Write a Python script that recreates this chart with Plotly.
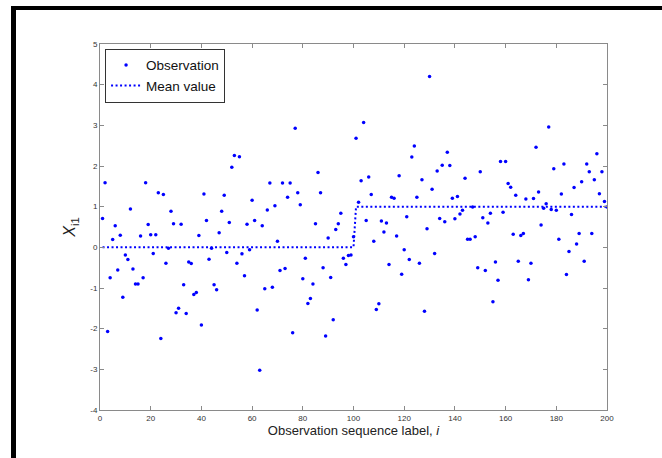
import plotly.graph_objects as go

obs_index = list(range(1, 201))
obs_values = [
    0.71, 1.59, -2.07, -0.75, 0.19, 0.53, -0.56, 0.30, -1.23, -0.19,
    -0.30, 0.94, -0.53, -0.90, -0.90, 0.28, -0.75, 1.59, 0.56, 0.31,
    -0.15, 0.31, 1.34, -2.24, 1.30, -0.39, -0.02, 0.89, 0.58, -1.61,
    -1.50, 0.57, -0.92, -1.63, -0.36, -0.40, -1.16, -1.11, 0.29, -1.91,
    1.31, 0.66, -0.29, -0.02, -0.92, -1.04, 0.36, 0.89, 1.28, -0.13,
    0.61, 1.97, 2.26, -0.39, 2.23, -0.16, -0.70, 0.57, -0.06, 1.16,
    0.66, -1.54, -3.02, 0.53, -1.02, 0.92, 1.58, -0.98, 1.02, 0.15,
    -0.57, 1.58, -0.52, 1.23, 1.58, -2.10, 2.93, 1.34, 1.05, -0.77,
    -0.27, -1.38, -1.26, -0.90, 0.58, 1.84, 1.34, -0.50, -2.18, 0.23,
    -0.74, -1.78, 0.44, 0.58, 0.84, -0.27, -0.42, -0.20, -0.19, 0.26,
    2.68, 1.11, 1.64, 3.07, 0.66, 1.73, 1.30, 0.15, -1.53, -1.39,
    0.65, 0.38, 0.60, -0.42, 1.23, 1.21, 0.28, 1.76, -0.66, -0.06,
    0.75, -0.30, 2.22, 2.49, 1.23, -0.39, 1.66, -1.57, 0.46, 4.20,
    1.43, -0.15, 1.88, 0.71, 2.02, 0.63, 2.34, 2.01, 1.21, 0.70,
    1.25, 0.82, 0.91, 1.70, 0.20, 0.20, 0.99, 0.26, -0.50, 1.86,
    0.73, -0.57, 0.60, 0.84, -1.34, -0.36, -0.81, 2.11, 0.86, 2.11,
    1.57, 1.48, 0.32, 1.28, -0.34, 0.29, 0.34, 1.19, -0.80, -0.39,
    1.20, 2.46, 1.36, 0.55, 0.96, 1.07, 2.96, 0.93, 1.93, 0.91,
    0.20, 1.31, 2.05, -0.67, -0.10, 0.81, 1.47, 0.08, 0.34, 1.61,
    -0.34, 2.05, 1.86, 0.34, 1.66, 2.30, 1.32, 1.86, 1.13, 0.99,
]
mean_values = [0.0] * 100 + [1.0] * 100

x_ticks = list(range(0, 201, 20))
y_ticks = list(range(-4, 6))

W, H = 662, 458
L, R, T, B = 100, 55, 44, 48
pw, ph = W - L - R, H - T - B

def px_x(p):
    return (p - L) / pw

def px_y(p):
    return (H - B - p) / ph

fig = go.Figure()
fig.add_trace(go.Scatter(
    x=obs_index, y=obs_values, mode="markers", name="Observation",
    marker=dict(color="#0000FF", size=3.5, line=dict(width=0)),
))
fig.add_trace(go.Scatter(
    x=obs_index, y=mean_values, mode="lines", name="Mean value",
    line=dict(color="#0000FF", width=2, dash="2px,2.5px"),
))

axis_common = dict(
    showline=True, linecolor="#8a8a8a", linewidth=1, mirror="ticks",
    ticks="inside", ticklen=4, tickcolor="#8a8a8a", showgrid=False,
    zeroline=False, tickfont=dict(family="Liberation Sans", size=8, color="#333333"),
)

fig.update_layout(
    width=W, height=H,
    margin=dict(l=L, r=R, t=T, b=B),
    paper_bgcolor="white", plot_bgcolor="white",
    font=dict(family="Liberation Sans", color="#222222"),
    xaxis=dict(range=[0, 200], tickvals=x_ticks, ticktext=[str(v) for v in x_ticks],
               title=dict(text="Observation sequence label, <i>i</i>",
                          font=dict(size=13, color="#222222"), standoff=4),
               **axis_common),
    yaxis=dict(range=[-4, 5], tickvals=y_ticks, ticktext=[str(v) for v in y_ticks],
               title=dict(text="<i>X</i><sub>i1</sub>",
                          font=dict(size=16, color="#222222"), standoff=10),
               **axis_common),
    legend=dict(x=0.01, y=0.987, xanchor="left", yanchor="top",
                bgcolor="white", bordercolor="#333333", borderwidth=1,
                font=dict(family="Liberation Sans", size=13.5, color="#111111"),
                tracegroupgap=0, itemwidth=30),
    showlegend=True,
    shapes=[
        dict(type="line", xref="paper", yref="paper",
             x0=px_x(13.5), x1=px_x(13.5), y0=px_y(6), y1=px_y(470),
             line=dict(color="black", width=5)),
        dict(type="line", xref="paper", yref="paper",
             x0=px_x(11), x1=px_x(680), y0=px_y(8), y1=px_y(8),
             line=dict(color="black", width=4)),
    ],
)

fig.write_html("out.html")
